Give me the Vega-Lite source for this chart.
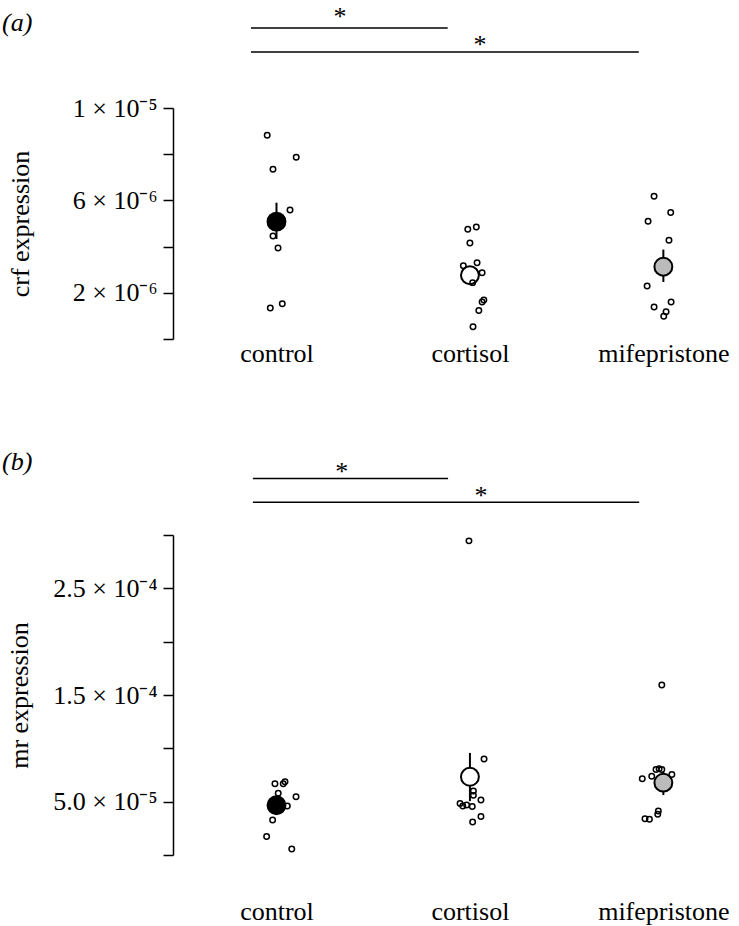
{
  "$schema": "https://vega.github.io/schema/vega-lite/v6.json",
  "background": "white",
  "padding": {"left": 2, "top": 4, "right": 2, "bottom": 2},
  "datasets": {
    "crf_pts": [
      {"group": "control", "pos": 0.952, "value": 8.82e-6},
      {"group": "control", "pos": 1.102, "value": 7.87e-6},
      {"group": "control", "pos": 0.982, "value": 7.35e-6},
      {"group": "control", "pos": 1.070, "value": 5.58e-6},
      {"group": "control", "pos": 0.982, "value": 4.46e-6},
      {"group": "control", "pos": 1.008, "value": 3.94e-6},
      {"group": "control", "pos": 1.030, "value": 1.53e-6},
      {"group": "control", "pos": 0.968, "value": 1.34e-6},
      {"group": "cortisol", "pos": 1.989, "value": 4.75e-6},
      {"group": "cortisol", "pos": 2.033, "value": 4.85e-6},
      {"group": "cortisol", "pos": 2.000, "value": 4.16e-6},
      {"group": "cortisol", "pos": 1.966, "value": 3.17e-6},
      {"group": "cortisol", "pos": 2.037, "value": 3.30e-6},
      {"group": "cortisol", "pos": 2.063, "value": 2.87e-6},
      {"group": "cortisol", "pos": 2.014, "value": 2.44e-6},
      {"group": "cortisol", "pos": 2.072, "value": 1.69e-6},
      {"group": "cortisol", "pos": 2.063, "value": 1.60e-6},
      {"group": "cortisol", "pos": 2.046, "value": 1.23e-6},
      {"group": "cortisol", "pos": 2.016, "value": 0.53e-6},
      {"group": "mifepristone", "pos": 2.952, "value": 6.18e-6},
      {"group": "mifepristone", "pos": 3.038, "value": 5.48e-6},
      {"group": "mifepristone", "pos": 2.921, "value": 5.10e-6},
      {"group": "mifepristone", "pos": 3.029, "value": 4.27e-6},
      {"group": "mifepristone", "pos": 2.916, "value": 2.29e-6},
      {"group": "mifepristone", "pos": 3.040, "value": 1.60e-6},
      {"group": "mifepristone", "pos": 2.952, "value": 1.39e-6},
      {"group": "mifepristone", "pos": 3.014, "value": 1.18e-6},
      {"group": "mifepristone", "pos": 3.002, "value": 0.98e-6}
    ],
    "crf_means": [
      {"group": "control", "pos": 1, "mean": 5.08e-6, "lo": 4.33e-6, "hi": 5.90e-6},
      {"group": "cortisol", "pos": 2, "mean": 2.76e-6, "lo": 2.45e-6, "hi": 3.07e-6},
      {"group": "mifepristone", "pos": 3, "mean": 3.13e-6, "lo": 2.47e-6, "hi": 3.87e-6}
    ],
    "crf_sig": [
      {"from": 0.868, "to": 1.885, "level": 1.346e-5, "star_pos": 1.328, "star_level": 1.359e-5, "label": "*"},
      {"from": 0.868, "to": 2.873, "level": 1.242e-5, "star_pos": 2.052, "star_level": 1.238e-5, "label": "*"}
    ],
    "mr_pts": [
      {"group": "control", "pos": 0.992, "value": 6.68e-5},
      {"group": "control", "pos": 1.035, "value": 6.68e-5},
      {"group": "control", "pos": 1.044, "value": 6.87e-5},
      {"group": "control", "pos": 1.009, "value": 5.78e-5},
      {"group": "control", "pos": 1.101, "value": 5.47e-5},
      {"group": "control", "pos": 1.056, "value": 4.60e-5},
      {"group": "control", "pos": 0.980, "value": 3.29e-5},
      {"group": "control", "pos": 0.949, "value": 1.74e-5},
      {"group": "control", "pos": 1.079, "value": 0.56e-5},
      {"group": "cortisol", "pos": 1.995, "value": 2.945e-4},
      {"group": "cortisol", "pos": 2.073, "value": 9.01e-5},
      {"group": "cortisol", "pos": 2.018, "value": 5.99e-5},
      {"group": "cortisol", "pos": 2.018, "value": 5.59e-5},
      {"group": "cortisol", "pos": 2.057, "value": 5.15e-5},
      {"group": "cortisol", "pos": 1.949, "value": 4.82e-5},
      {"group": "cortisol", "pos": 1.963, "value": 4.60e-5},
      {"group": "cortisol", "pos": 1.983, "value": 4.69e-5},
      {"group": "cortisol", "pos": 2.012, "value": 4.54e-5},
      {"group": "cortisol", "pos": 2.057, "value": 3.60e-5},
      {"group": "cortisol", "pos": 2.014, "value": 3.10e-5},
      {"group": "mifepristone", "pos": 2.992, "value": 1.594e-4},
      {"group": "mifepristone", "pos": 2.891, "value": 7.15e-5},
      {"group": "mifepristone", "pos": 2.940, "value": 7.39e-5},
      {"group": "mifepristone", "pos": 2.962, "value": 8.02e-5},
      {"group": "mifepristone", "pos": 2.978, "value": 8.08e-5},
      {"group": "mifepristone", "pos": 2.992, "value": 8.02e-5},
      {"group": "mifepristone", "pos": 3.044, "value": 7.55e-5},
      {"group": "mifepristone", "pos": 2.974, "value": 4.13e-5},
      {"group": "mifepristone", "pos": 2.971, "value": 3.82e-5},
      {"group": "mifepristone", "pos": 2.905, "value": 3.40e-5},
      {"group": "mifepristone", "pos": 2.928, "value": 3.36e-5}
    ],
    "mr_means": [
      {"group": "control", "pos": 1, "mean": 4.66e-5, "lo": 4.1e-5, "hi": 5.2e-5},
      {"group": "cortisol", "pos": 2, "mean": 7.33e-5, "lo": 5.05e-5, "hi": 9.57e-5},
      {"group": "mifepristone", "pos": 3, "mean": 6.78e-5, "lo": 5.62e-5, "hi": 7.8e-5}
    ],
    "mr_sig": [
      {"from": 0.878, "to": 1.887, "level": 3.53e-4, "star_pos": 1.337, "star_level": 3.511e-4, "label": "*"},
      {"from": 0.878, "to": 2.875, "level": 3.308e-4, "star_pos": 2.057, "star_level": 3.289e-4, "label": "*"}
    ]
  },
  "vconcat": [
    {
      "width": 560,
      "height": 231,
      "title": {"text": "(a)", "anchor": "start", "frame": "group", "dx": -171, "offset": -32, "font": "Liberation Serif", "fontSize": 26, "fontWeight": "normal", "fontStyle": "italic", "color": "black"},
      "layer": [
        {
          "data": {"name": "crf_means"},
          "mark": {"type": "rule", "color": "black", "strokeWidth": 2},
          "encoding": {
            "x": {"field": "pos", "type": "quantitative", "scale": {"domain": [0.465, 3.36], "nice": false, "zero": false},
              "axis": {"values": [1, 2, 3], "labelExpr": "datum.value == 1 ? 'control' : datum.value == 2 ? 'cortisol' : 'mifepristone'", "title": null, "domain": false, "ticks": false, "labelPadding": 1}},
            "y": {"field": "lo", "type": "quantitative", "scale": {"domain": [0, 1e-5], "nice": false, "zero": false},
              "axis": {"values": [0, 2e-6, 4e-6, 6e-6, 8e-6, 1e-5], "labelExpr": "datum.value > 9e-6 ? '1 × 10⁻⁵' : abs(datum.value - 6e-6) < 1e-7 ? '6 × 10⁻⁶' : abs(datum.value - 2e-6) < 1e-7 ? '2 × 10⁻⁶' : ''", "title": "crf expression", "titlePadding": 39}},
            "y2": {"field": "hi"}
          }
        },
        {
          "data": {"name": "crf_means"},
          "mark": {"type": "point", "shape": "circle", "filled": true, "stroke": "black", "strokeWidth": 2, "size": 320, "opacity": 1},
          "encoding": {
            "x": {"field": "pos", "type": "quantitative"},
            "y": {"field": "mean", "type": "quantitative"},
            "fill": {"field": "group", "type": "nominal", "scale": {"domain": ["control", "cortisol", "mifepristone"], "range": ["#000000", "#ffffff", "#bbbbbb"]}, "legend": null}
          }
        },
        {
          "data": {"name": "crf_pts"},
          "mark": {"type": "point", "shape": "circle", "filled": false, "stroke": "black", "strokeWidth": 1.5, "size": 30, "opacity": 1},
          "encoding": {
            "x": {"field": "pos", "type": "quantitative"},
            "y": {"field": "value", "type": "quantitative"}
          }
        },
        {
          "data": {"name": "crf_sig"},
          "mark": {"type": "rule", "color": "black", "strokeWidth": 1.5},
          "encoding": {
            "x": {"field": "from", "type": "quantitative"},
            "x2": {"field": "to"},
            "y": {"field": "level", "type": "quantitative"}
          }
        },
        {
          "data": {"name": "crf_sig"},
          "mark": {"type": "text", "font": "Liberation Serif", "fontSize": 26, "fill": "black", "baseline": "alphabetic", "align": "center"},
          "encoding": {
            "x": {"field": "star_pos", "type": "quantitative"},
            "y": {"field": "star_level", "type": "quantitative"},
            "text": {"field": "label"}
          }
        }
      ]
    },
    {
      "width": 560,
      "height": 320,
      "title": {"text": "(b)", "anchor": "start", "frame": "group", "dx": -171, "offset": -16, "font": "Liberation Serif", "fontSize": 26, "fontWeight": "normal", "fontStyle": "italic", "color": "black"},
      "layer": [
        {
          "data": {"name": "mr_means"},
          "mark": {"type": "rule", "color": "black", "strokeWidth": 2},
          "encoding": {
            "x": {"field": "pos", "type": "quantitative", "scale": {"domain": [0.465, 3.36], "nice": false, "zero": false},
              "axis": {"values": [1, 2, 3], "labelExpr": "datum.value == 1 ? 'control' : datum.value == 2 ? 'cortisol' : 'mifepristone'", "title": null, "domain": false, "ticks": false, "labelPadding": 43}},
            "y": {"field": "lo", "type": "quantitative", "scale": {"domain": [0, 3e-4], "nice": false, "zero": false},
              "axis": {"values": [0, 5e-5, 1e-4, 1.5e-4, 2e-4, 2.5e-4, 3e-4], "labelExpr": "abs(datum.value - 5e-5) < 1e-6 ? '5.0 × 10⁻⁵' : abs(datum.value - 1.5e-4) < 1e-6 ? '1.5 × 10⁻⁴' : abs(datum.value - 2.5e-4) < 1e-6 ? '2.5 × 10⁻⁴' : ''", "title": "mr expression", "titlePadding": 20}},
            "y2": {"field": "hi"}
          }
        },
        {
          "data": {"name": "mr_means"},
          "mark": {"type": "point", "shape": "circle", "filled": true, "stroke": "black", "strokeWidth": 2, "size": 320, "opacity": 1},
          "encoding": {
            "x": {"field": "pos", "type": "quantitative"},
            "y": {"field": "mean", "type": "quantitative"},
            "fill": {"field": "group", "type": "nominal", "scale": {"domain": ["control", "cortisol", "mifepristone"], "range": ["#000000", "#ffffff", "#bbbbbb"]}, "legend": null}
          }
        },
        {
          "data": {"name": "mr_pts"},
          "mark": {"type": "point", "shape": "circle", "filled": false, "stroke": "black", "strokeWidth": 1.5, "size": 30, "opacity": 1},
          "encoding": {
            "x": {"field": "pos", "type": "quantitative"},
            "y": {"field": "value", "type": "quantitative"}
          }
        },
        {
          "data": {"name": "mr_sig"},
          "mark": {"type": "rule", "color": "black", "strokeWidth": 1.5},
          "encoding": {
            "x": {"field": "from", "type": "quantitative"},
            "x2": {"field": "to"},
            "y": {"field": "level", "type": "quantitative"}
          }
        },
        {
          "data": {"name": "mr_sig"},
          "mark": {"type": "text", "font": "Liberation Serif", "fontSize": 26, "fill": "black", "baseline": "alphabetic", "align": "center"},
          "encoding": {
            "x": {"field": "star_pos", "type": "quantitative"},
            "y": {"field": "star_level", "type": "quantitative"},
            "text": {"field": "label"}
          }
        }
      ]
    }
  ],
  "spacing": 83,
  "config": {
    "view": {"stroke": null},
    "axis": {
      "grid": false,
      "labelFont": "Liberation Serif",
      "labelFontSize": 26,
      "labelColor": "black",
      "labelOverlap": false,
      "labelBound": false,
      "labelFlush": false,
      "titleFont": "Liberation Serif",
      "titleFontSize": 26,
      "titleFontWeight": "normal",
      "titleColor": "black",
      "domainColor": "black",
      "domainWidth": 1.5,
      "tickColor": "black",
      "tickWidth": 1.5,
      "tickSize": 10
    },
    "axisY": {"labelPadding": 6}
  }
}
